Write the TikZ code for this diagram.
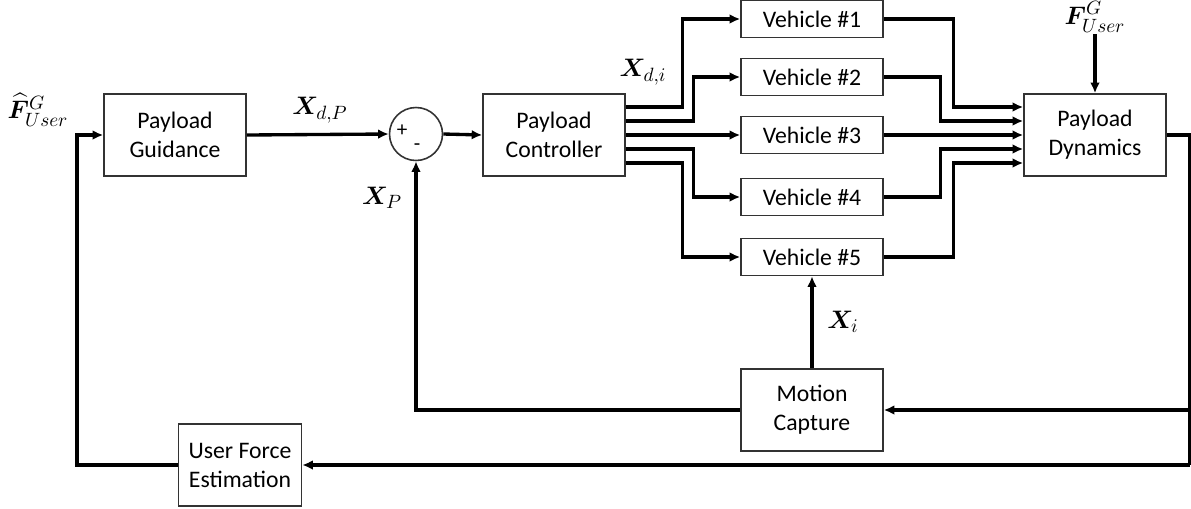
\documentclass[tikz,border=0pt]{standalone}
\usepackage{amsmath,bm}
\usepackage{fontspec}
\setmainfont{Carlito}
\usepackage{tikz}
\usetikzlibrary{arrows.meta,positioning,calc}
\definecolor{boxgray}{HTML}{333333}

\begin{document}
\begin{tikzpicture}[x=0.02cm,y=-0.02cm,
  block/.style={draw=boxgray,line width=0.9pt,minimum width=2.84cm,minimum height=1.64cm,align=center,font=\fontsize{13.5}{16.5}\selectfont,inner sep=1pt},
  vehicle/.style={block,minimum height=0.74cm},
  arrow/.style={-{Latex[length=6pt,width=5.5pt]},line width=1.9pt},
  wire/.style={line width=1.9pt},
  lbl/.style={font=\fontsize{15}{17}\selectfont,inner sep=1pt}
]
\useasboundingbox (0,0) rectangle (1191,508);
\node[block] (guid) at (175,135) {Payload\\Guidance};
\node[draw=boxgray,line width=0.9pt,circle,minimum size=1.06cm,inner sep=0pt] (sum) at (416,134) {};
\node[font=\fontsize{12}{12}\selectfont,inner sep=0pt] (plus) at (402,131) {+};
\node[font=\fontsize{12}{12}\selectfont,inner sep=0pt] (minus) at (417,147) {-};
\node[block] (ctrl) at (554,135) {Payload\\Controller};
\node[vehicle] (v1) at (812,19) {Vehicle \#1};
\node[vehicle] (v2) at (812,77) {Vehicle \#2};
\node[vehicle] (v3) at (812,135) {Vehicle \#3};
\node[vehicle] (v4) at (812,197) {Vehicle \#4};
\node[vehicle] (v5) at (812,257) {Vehicle \#5};
\node[block] (dyn) at (1095,135) {Payload\\Dynamics};
\node[block] (mocap) at (812,410) {Motion\\Capture};
\node[block,minimum width=2.46cm] (ufe) at (240,465) {User Force\\Estimation};
\node[lbl] (fhat) at (38,110) {$\widehat{\bm{F}}^{G}_{User}$};
\node[lbl] (xdp) at (320,110) {$\bm{X}_{d,P}$};
\node[lbl] (xp) at (382,198) {$\bm{X}_{P}$};
\node[lbl] (xdi) at (643,72) {$\bm{X}_{d,i}$};
\node[lbl] (xi) at (843,322) {$\bm{X}_{i}$};
\node[lbl] (fu) at (1095,17) {$\bm{F}^{G}_{User}$};
\coordinate (rt) at (1189.5,135);
\coordinate (lft) at (77,465);
\draw[arrow] (guid.east) -- (sum.west);
\draw[arrow] (sum.east) -- (ctrl.west);
\foreach \o/\v/\dx/\ex in {-28/v1/57/70,-14/v2/68/57,0/v3/60/60,14/v4/68/57,28/v5/57/70}{
  \draw[arrow] ($(ctrl.east)+(0,\o)$) -- ++(\dx,0) |- (\v.west);
  \draw[arrow] (\v.east) -- ++(\ex,0) |- ($(dyn.west)+(0,\o)$);
}
\draw[arrow] (fu) -- (dyn.north);
\draw[wire] (dyn.east) -- (rt) -- (rt |- ufe.east);
\draw[arrow] (rt |- mocap.east) -- (mocap.east);
\draw[arrow] (rt |- ufe.east) -- (ufe.east);
\draw[arrow] (mocap.north) -- (v5.south);
\draw[arrow] (mocap.west) -| (sum.south);
\draw[arrow] (ufe.west) -- (lft) |- (guid.west);
\end{tikzpicture}
\end{document}
